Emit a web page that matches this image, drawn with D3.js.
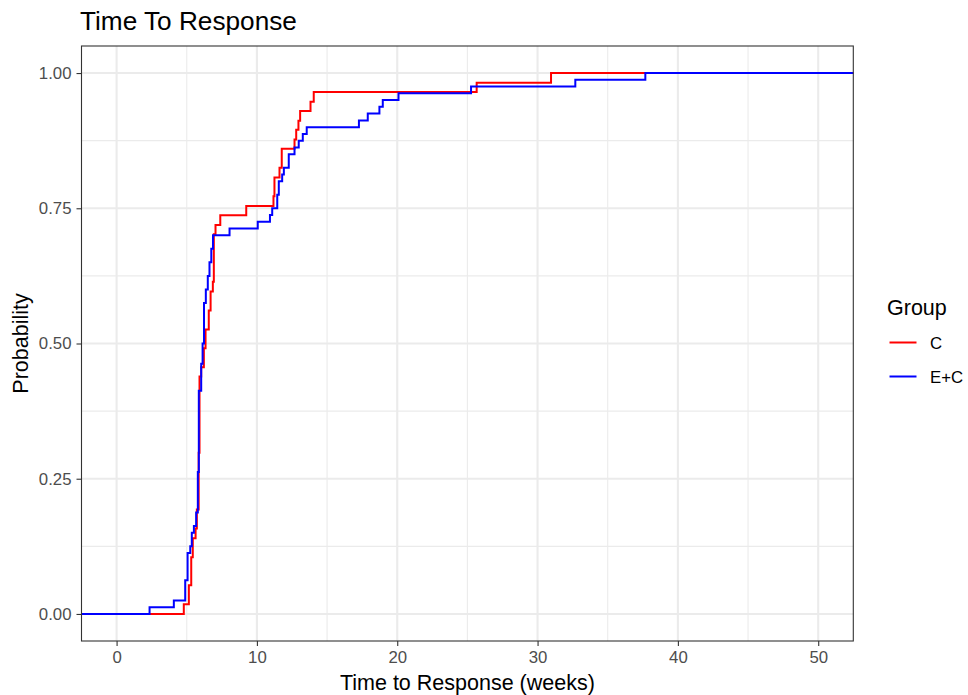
<!DOCTYPE html>
<html>
<head>
<meta charset="utf-8">
<script src="https://cdn.jsdelivr.net/npm/d3@7"></script>
<style>
  html, body { margin: 0; padding: 0; background: #ffffff; }
  svg { display: block; font-family: "Liberation Sans", Arial, Helvetica, sans-serif; }
</style>
</head>
<body>
<svg id="chart" width="968" height="695"></svg>
<script>
// Empirical cumulative distribution of time to response, by treatment group.
// Step times (weeks) and the cumulative probability reached at each step.
const groups = ["C", "E+C"];
const groupColors = ["#FF0000", "#0000FF"];

const cTimes = [4.79, 5.15, 5.32, 5.43, 5.63, 5.72, 5.85, 5.91, 6.03, 6.22,
                6.34, 6.57, 6.70, 6.86, 6.93, 7.05, 7.39, 9.24, 11.18, 11.25,
                11.61, 11.77, 12.68, 12.80, 12.96, 13.08, 13.82, 14.05, 25.66, 30.96];
const cProb  = [0.018, 0.053, 0.105, 0.140, 0.158, 0.193, 0.298, 0.439, 0.456, 0.491,
                0.526, 0.561, 0.596, 0.614, 0.702, 0.719, 0.737, 0.754, 0.772, 0.807,
                0.825, 0.860, 0.877, 0.895, 0.912, 0.930, 0.947, 0.965, 0.982, 1.000];

const ecTimes = [2.35, 4.08, 4.89, 5.06, 5.25, 5.36, 5.51, 5.67, 5.79, 5.86,
                 6.03, 6.13, 6.23, 6.36, 6.50, 6.62, 6.75, 6.87, 8.05, 10.06,
                 10.93, 11.09, 11.45, 11.56, 11.80, 11.92, 12.27, 12.68, 12.98, 13.27,
                 13.55, 17.27, 17.90, 18.73, 18.97, 20.09, 25.26, 32.69, 37.68];
const ecProb  = [0.0125, 0.025, 0.0625, 0.1125, 0.125, 0.15, 0.1625, 0.1875, 0.2625, 0.4125,
                 0.4625, 0.5, 0.575, 0.6, 0.625, 0.65, 0.675, 0.7, 0.7125, 0.725,
                 0.7375, 0.75, 0.775, 0.8, 0.8125, 0.825, 0.85, 0.8625, 0.875, 0.8875,
                 0.9, 0.9125, 0.925, 0.9375, 0.95, 0.9625, 0.975, 0.9875, 1.0];

const xTicks = [0, 10, 20, 30, 40, 50];
const xMinor = [5, 15, 25, 35, 45];
const yTicks = [0, 0.25, 0.5, 0.75, 1];
const yMinor = [0.125, 0.375, 0.625, 0.875];

const titleText = "Time To Response";
const xTitle = "Time to Response (weeks)";
const yTitle = "Probability";
const legendTitle = "Group";

// Layout
const panel = { left: 81.5, right: 853.3, top: 46, bottom: 641 };
const svg = d3.select("#chart");

const x = d3.scaleLinear().domain([-2.5, 52.5]).range([panel.left, panel.right]);
const y = d3.scaleLinear().domain([-0.05, 1.05]).range([panel.bottom, panel.top]);

const panelW = panel.right - panel.left;
const panelH = panel.bottom - panel.top;

// Panel background
svg.append("rect")
  .attr("x", panel.left).attr("y", panel.top)
  .attr("width", panelW).attr("height", panelH)
  .attr("fill", "#ffffff");

// Grid lines
const grid = svg.append("g").attr("class", "grid");
grid.selectAll("line.xminor").data(xMinor).join("line")
  .attr("x1", d => x(d)).attr("x2", d => x(d))
  .attr("y1", panel.top).attr("y2", panel.bottom)
  .attr("stroke", "#EBEBEB").attr("stroke-width", 1.1);
grid.selectAll("line.yminor").data(yMinor).join("line")
  .attr("class", "yminor")
  .attr("y1", d => y(d)).attr("y2", d => y(d))
  .attr("x1", panel.left).attr("x2", panel.right)
  .attr("stroke", "#EBEBEB").attr("stroke-width", 1.1);
grid.selectAll("line.xmajor").data(xTicks).join("line")
  .attr("class", "xmajor")
  .attr("x1", d => x(d)).attr("x2", d => x(d))
  .attr("y1", panel.top).attr("y2", panel.bottom)
  .attr("stroke", "#EBEBEB").attr("stroke-width", 2.1);
grid.selectAll("line.ymajor").data(yTicks).join("line")
  .attr("class", "ymajor")
  .attr("y1", d => y(d)).attr("y2", d => y(d))
  .attr("x1", panel.left).attr("x2", panel.right)
  .attr("stroke", "#EBEBEB").attr("stroke-width", 2.1);

// ECDF step lines, padded out to the panel edges
const [x0, x1] = x.domain();
const series = [
  { name: groups[0], color: groupColors[0], times: cTimes, prob: cProb },
  { name: groups[1], color: groupColors[1], times: ecTimes, prob: ecProb }
];
const line = d3.line()
  .x(d => x(d[0]))
  .y(d => y(d[1]))
  .curve(d3.curveStepAfter);

const lines = svg.append("g").attr("class", "lines");
series.forEach(s => {
  const pts = [[x0, 0]].concat(s.times.map((t, i) => [t, s.prob[i]]));
  pts.push([x1, s.prob[s.prob.length - 1]]);
  lines.append("path")
    .datum(pts)
    .attr("d", line)
    .attr("fill", "none")
    .attr("stroke", s.color)
    .attr("stroke-width", 2)
    .attr("stroke-linejoin", "miter")
    .attr("stroke-linecap", "butt");
});

// Panel border
svg.append("rect")
  .attr("x", panel.left).attr("y", panel.top)
  .attr("width", panelW).attr("height", panelH)
  .attr("fill", "none").attr("stroke", "#333333").attr("stroke-width", 1.1);

// Axes
const tickColor = "#333333";
const labelColor = "#4D4D4D";
const tickFont = 16.8;

const xAxis = svg.append("g")
  .attr("transform", `translate(0,${panel.bottom})`)
  .call(d3.axisBottom(x).tickValues(xTicks).tickSize(5).tickPadding(5).tickFormat(d3.format("d")));
xAxis.select(".domain").remove();
xAxis.selectAll(".tick line").attr("stroke", tickColor).attr("stroke-width", 1.1);
xAxis.selectAll(".tick text")
  .attr("fill", labelColor).attr("font-size", tickFont)
  .attr("font-family", "Liberation Sans, Arial, sans-serif");

const yAxis = svg.append("g")
  .attr("transform", `translate(${panel.left},0)`)
  .call(d3.axisLeft(y).tickValues(yTicks).tickSize(5).tickPadding(5).tickFormat(d3.format(".2f")));
yAxis.select(".domain").remove();
yAxis.selectAll(".tick line").attr("stroke", tickColor).attr("stroke-width", 1.1);
yAxis.selectAll(".tick text")
  .attr("fill", labelColor).attr("font-size", tickFont)
  .attr("font-family", "Liberation Sans, Arial, sans-serif");

// Titles
svg.append("text")
  .attr("x", 80).attr("y", 30)
  .attr("font-size", 26.2).attr("fill", "#000")
  .text(titleText);

svg.append("text")
  .attr("x", (panel.left + panel.right) / 2).attr("y", 690)
  .attr("text-anchor", "middle")
  .attr("font-size", 21.5).attr("fill", "#000")
  .text(xTitle);

svg.append("text")
  .attr("transform", `translate(28,${(panel.top + panel.bottom) / 2}) rotate(-90)`)
  .attr("text-anchor", "middle")
  .attr("font-size", 21.5).attr("fill", "#000")
  .text(yTitle);

// Legend
const legend = svg.append("g").attr("class", "legend");
legend.append("text")
  .attr("x", 887).attr("y", 314.5)
  .attr("font-size", 21.5).attr("fill", "#000")
  .text(legendTitle);

const keyY = d3.scalePoint().domain(groups).range([342.5, 376.5]);
groups.forEach((g, i) => {
  legend.append("line")
    .attr("x1", 889.5).attr("x2", 916.5)
    .attr("y1", keyY(g)).attr("y2", keyY(g))
    .attr("stroke", groupColors[i]).attr("stroke-width", 2);
  legend.append("text")
    .attr("x", 930).attr("y", keyY(g))
    .attr("dy", "0.36em")
    .attr("font-size", 16.8).attr("fill", "#000")
    .text(g);
});
</script>
</body>
</html>
